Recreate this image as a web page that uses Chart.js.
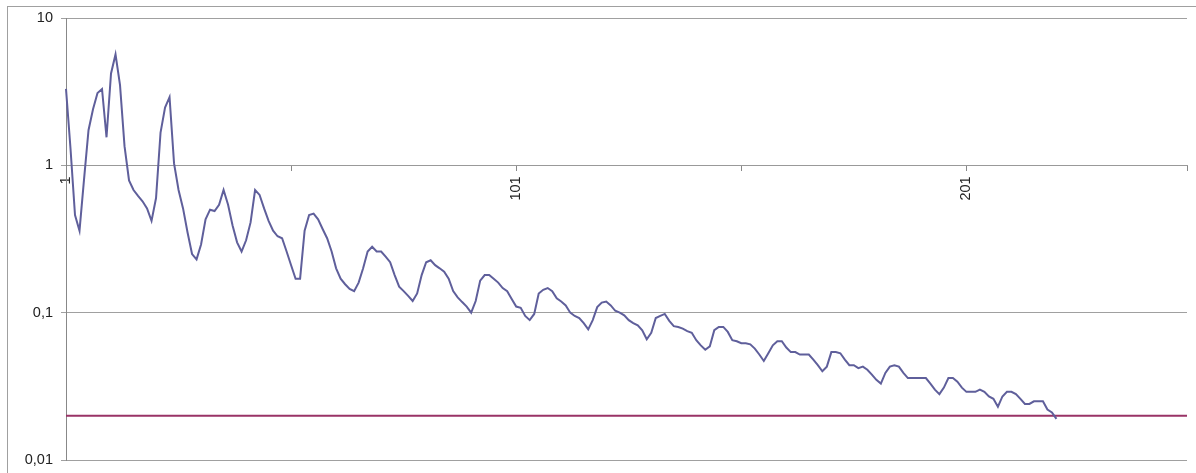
<!DOCTYPE html>
<html>
<head>
<meta charset="utf-8">
<script src="https://cdn.jsdelivr.net/npm/chart.js@4.4.1/dist/chart.umd.min.js"></script>
<style>
  html, body { margin: 0; padding: 0; background: #fff; overflow: hidden; }
  #frame { position: absolute; left: 7px; top: 6px; width: 1400px; height: 700px;
           border: 1px solid #a0a0a0; box-sizing: border-box; }
  #wrap { position: absolute; left: 0; top: 0; width: 1196px; height: 473px; }
</style>
</head>
<body>
<div id="frame"></div>
<div id="wrap"><canvas id="chart" width="1196" height="473"></canvas></div>
<script>
// Category axis: sample numbers 1..250
const categoryCount = 250;
const categories = Array.from({ length: categoryCount }, (_, i) => String(i + 1));
const labelledCategories = ['1', '101', '201'];
const tickMarkCategories = ['1', '51', '101', '151', '201', '250'];

// Logarithmic value axis
const yTickValues = [0.01, 0.1, 1, 10];
const yTickLabels = ['0,01', '0,1', '1', '10'];

// Horizontal limit line
const limitValue = 0.02;
const limitSpan = ['1', '250'];

// Measured series, one value per category starting at 1
const decayValues = [
  3.3, 1.3, 0.46, 0.36, 0.8, 1.73, 2.4, 3.1, 3.3, 1.55,
  4.2, 5.66, 3.5, 1.35, 0.79, 0.68, 0.62, 0.57, 0.51, 0.42,
  0.6, 1.67, 2.47, 2.9, 1.03, 0.68, 0.51, 0.35, 0.25, 0.23,
  0.29, 0.43, 0.50, 0.49, 0.54, 0.68, 0.54, 0.39, 0.30, 0.26,
  0.31, 0.41, 0.68, 0.63, 0.51, 0.42, 0.36, 0.33, 0.32, 0.26,
  0.21, 0.17, 0.17, 0.36, 0.46, 0.47, 0.43, 0.37, 0.32, 0.26,
  0.20, 0.17, 0.156, 0.145, 0.14, 0.16, 0.20, 0.26, 0.28, 0.26,
  0.26, 0.24, 0.22, 0.18, 0.15, 0.14, 0.13, 0.12, 0.135, 0.18,
  0.22, 0.227, 0.21, 0.20, 0.19, 0.17, 0.14, 0.127, 0.118, 0.11,
  0.10, 0.12, 0.165, 0.18, 0.18, 0.17, 0.16, 0.147, 0.14, 0.124,
  0.11, 0.108, 0.095, 0.089, 0.098, 0.135, 0.143, 0.147, 0.14, 0.125,
  0.119, 0.112, 0.10, 0.095, 0.092, 0.085, 0.077, 0.089, 0.109, 0.117,
  0.119, 0.112, 0.103, 0.10, 0.096, 0.089, 0.085, 0.082, 0.076, 0.066,
  0.073, 0.092, 0.095, 0.098, 0.088, 0.081, 0.080, 0.078, 0.075, 0.073,
  0.065, 0.060, 0.056, 0.059, 0.076, 0.080, 0.080, 0.074, 0.065, 0.064,
  0.062, 0.062, 0.061, 0.057, 0.052, 0.047, 0.053, 0.060, 0.064, 0.064,
  0.058, 0.054, 0.054, 0.052, 0.052, 0.052, 0.048, 0.044, 0.040, 0.043,
  0.054, 0.054, 0.053, 0.048, 0.044, 0.044, 0.042, 0.043, 0.041, 0.038,
  0.035, 0.033, 0.039, 0.043, 0.044, 0.043, 0.039, 0.036, 0.036, 0.036,
  0.036, 0.036, 0.033, 0.030, 0.028, 0.031, 0.036, 0.036, 0.034, 0.031,
  0.029, 0.029, 0.029, 0.030, 0.029, 0.027, 0.026, 0.023, 0.027, 0.029,
  0.029, 0.028, 0.026, 0.024, 0.024, 0.025, 0.025, 0.025, 0.022, 0.021,
  0.019
];

const axisFont = { family: "'Liberation Sans', Arial, sans-serif", size: 14.5 };

new Chart(document.getElementById('chart'), {
  type: 'line',
  data: {
    labels: categories,
    datasets: [
      {
        data: decayValues,
        borderColor: '#5f5f9b',
        borderWidth: 2,
        pointRadius: 0,
        tension: 0,
        fill: false
      },
      {
        data: limitSpan.map(c => ({ x: c, y: limitValue })),
        borderColor: '#993366',
        borderWidth: 2,
        pointRadius: 0,
        tension: 0,
        fill: false
      }
    ]
  },
  options: {
    responsive: false,
    animation: false,
    devicePixelRatio: 1,
    layout: { padding: { left: 0, top: 18, right: 9, bottom: 13 } },
    plugins: { legend: { display: false }, tooltip: { enabled: false } },
    scales: {
      x: {
        type: 'category',
        position: { y: 1 },
        offset: false,
        afterFit: s => {
          // the crossing axis sits inside the plot, so it reserves no outer margin
          s.paddingLeft = 0; s.paddingRight = 0; s.paddingTop = 0; s.paddingBottom = 0;
        },
        grid: {
          drawOnChartArea: false,
          drawTicks: true,
          tickLength: 5,
          color: ctx => tickMarkCategories.includes(categories[ctx.index]) ? '#888888' : 'rgba(0,0,0,0)'
        },
        border: { display: true, color: '#999999', width: 1 },
        ticks: {
          autoSkip: false,
          minRotation: 90,
          maxRotation: 90,
          padding: 6,
          color: '#222222',
          font: axisFont,
          callback: (v, i) => labelledCategories.includes(categories[i]) ? categories[i] : ''
        }
      },
      y: {
        type: 'logarithmic',
        min: 0.01,
        max: 10,
        afterBuildTicks: s => { s.ticks = yTickValues.map(v => ({ value: v })); },
        afterFit: s => {
          s.width = 66;
          // outer margins come from the layout padding alone
          s.paddingTop = 0; s.paddingBottom = 0;
        },
        grid: { color: '#a0a0a0', tickLength: 5 },
        border: { display: true, color: '#888888', width: 1 },
        ticks: {
          padding: 8,
          color: '#222222',
          font: axisFont,
          callback: v => {
            const i = yTickValues.indexOf(v);
            return i >= 0 ? yTickLabels[i] : '';
          }
        }
      }
    }
  }
});
</script>
</body>
</html>
